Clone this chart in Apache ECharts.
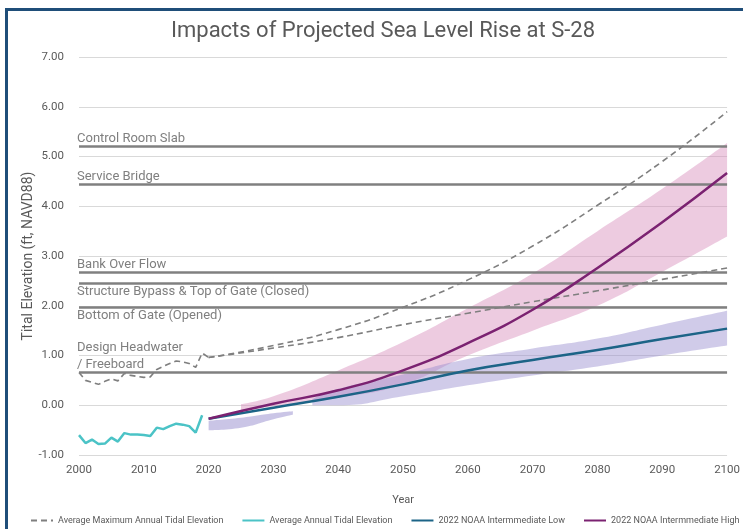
<!DOCTYPE html>
<html>
<head>
<meta charset="utf-8">
<script src="https://cdn.jsdelivr.net/npm/echarts@6/dist/echarts.min.js"></script>
<style>
  html, body { margin: 0; padding: 0; background: #fff; }
  #frame { position: absolute; left: 5px; top: 8px; width: 780px; height: 560px; border: 3px solid #1f4e79; box-sizing: border-box; }
  #chart { position: absolute; left: 0; top: 0; width: 743px; height: 529px; }
</style>
</head>
<body>
<div id="frame"></div>
<div id="chart"></div>
<script>
var FONT = "'Roboto', sans-serif"

// observed record 2000-2020
var histYears = [2000, 2001, 2002, 2003, 2004, 2005, 2006, 2007, 2008, 2009, 2010, 2011, 2012, 2013, 2014, 2015, 2016, 2017, 2018, 2019, 2020]
var avgMaxTide = [0.66, 0.50, 0.46, 0.42, 0.48, 0.53, 0.49, 0.64, 0.60, 0.58, 0.56, 0.57, 0.72, 0.78, 0.84, 0.89, 0.87, 0.84, 0.76, 1.05, 0.96]
var avgTide = [-0.60, -0.76, -0.69, -0.78, -0.77, -0.65, -0.73, -0.56, -0.59, -0.59, -0.60, -0.62, -0.45, -0.48, -0.42, -0.37, -0.39, -0.42, -0.55, -0.20]

// projections (decades)
var projYears = [2020, 2030, 2040, 2050, 2060, 2070, 2080, 2090, 2100]
var maxTideHigh = [0.96, 1.20, 1.52, 1.97, 2.52, 3.20, 4.02, 4.90, 5.90]
var maxTideLow = [0.96, 1.15, 1.36, 1.62, 1.85, 2.08, 2.30, 2.53, 2.76]
var noaaLow = [-0.27, -0.05, 0.17, 0.42, 0.70, 0.91, 1.11, 1.33, 1.54]
var noaaHigh = [-0.27, 0.03, 0.30, 0.70, 1.25, 1.92, 2.76, 3.68, 4.67]

// uncertainty ranges
var highBandYears = [2025, 2030, 2040, 2050, 2060, 2070, 2080, 2090, 2100]
var highBandLower = [-0.12, -0.02, 0.15, 0.42, 1.00, 1.50, 2.00, 2.68, 3.39]
var highBandUpper = [0.02, 0.18, 0.70, 1.27, 1.95, 2.65, 3.50, 4.35, 5.27]
var lowBandEarlyYears = [2020, 2025, 2030, 2033]
var lowBandEarlyLower = [-0.50, -0.45, -0.28, -0.19]
var lowBandEarlyUpper = [-0.31, -0.25, -0.16, -0.12]
var lowBandYears = [2036, 2040, 2050, 2060, 2070, 2080, 2090, 2100]
var lowBandLower = [0.00, 0.00, 0.18, 0.40, 0.60, 0.78, 1.00, 1.20]
var lowBandUpper = [0.12, 0.33, 0.62, 0.93, 1.14, 1.34, 1.62, 1.90]

// structure elevations
var levelNames = ['Control Room Slab', 'Service Bridge', 'Bank Over Flow', 'Structure Bypass & Top of Gate (Closed)', 'Bottom of Gate (Opened)', 'Design Headwater\n/ Freeboard']
var levelValues = [5.21, 4.45, 2.67, 2.46, 1.96, 0.67]

var yTicks = [-1, 0, 1, 2, 3, 4, 5, 6, 7]

var legendNames = ['Average Maximum Annual Tidal Elevation', 'Average Annual Tidal Elevation', '2022 NOAA Intermmediate Low', '2022 NOAA Intermmediate High']

function pairs (xs, ys) {
  return xs.map(function (x, i) { return [x, ys[i]] })
}

// value first so the stack runs on the y dimension
function flipped (xs, ys) {
  return xs.map(function (x, i) { return [ys[i], x] })
}

function band (name, xs, lower, upper, color) {
  var common = {
    type: 'line',
    stack: name,
    stackStrategy: 'all',
    smooth: true,
    symbol: 'none',
    silent: true,
    encode: { x: 1, y: 0 },
    lineStyle: { opacity: 0 },
    z: 1
  }
  return [
    Object.assign({ name: name + ' base', data: flipped(xs, lower) }, common),
    Object.assign({
      name: name,
      areaStyle: { color: color, opacity: 1 },
      data: flipped(xs, upper.map(function (u, i) { return +(u - lower[i]).toFixed(2) }))
    }, common)
  ]
}

var chart = echarts.init(document.getElementById('chart'))

var dashed = { color: '#7f7f7f', width: 1.6, type: [6, 4] }

var series = []
  .concat(band('highBand', highBandYears, highBandLower, highBandUpper, 'rgba(214, 140, 186, 0.45)'))
  .concat(band('lowBandEarly', lowBandEarlyYears, lowBandEarlyLower, lowBandEarlyUpper, 'rgba(150, 140, 206, 0.5)'))
  .concat(band('lowBand', lowBandYears, lowBandLower, lowBandUpper, 'rgba(150, 140, 206, 0.45)'))
  .concat([
    {
      name: 'levels',
      type: 'line',
      data: [],
      z: 3,
      markLine: {
        silent: true,
        symbol: 'none',
        animation: false,
        lineStyle: { color: '#808080', width: 2.5, type: 'solid' },
        data: levelValues.map(function (v, i) {
          var below = (i === 3 || i === 4)
          return {
            yAxis: v,
            label: {
              show: true,
              formatter: levelNames[i],
              position: below ? 'insideStartBottom' : 'insideStartTop',
              distance: below ? [-2, 0] : [-2, -1],
              color: '#7f7f7f',
              fontSize: 13,
              lineHeight: 17,
              fontFamily: FONT
            }
          }
        })
      }
    },
    {
      name: legendNames[0],
      type: 'line',
      symbol: 'none',
      lineStyle: dashed,
      data: pairs(histYears, avgMaxTide),
      z: 4
    },
    {
      name: legendNames[0],
      type: 'line',
      symbol: 'none',
      smooth: true,
      lineStyle: dashed,
      data: pairs(projYears, maxTideHigh),
      z: 4
    },
    {
      name: legendNames[0],
      type: 'line',
      symbol: 'none',
      smooth: true,
      lineStyle: dashed,
      data: pairs(projYears, maxTideLow),
      z: 4
    },
    {
      name: legendNames[1],
      type: 'line',
      symbol: 'none',
      color: '#4bc3c6',
      lineStyle: { width: 2.5 },
      data: pairs(histYears.slice(0, avgTide.length), avgTide),
      z: 5
    },
    {
      name: legendNames[2],
      type: 'line',
      symbol: 'none',
      smooth: true,
      color: '#1c6487',
      lineStyle: { width: 2.5 },
      data: pairs(projYears, noaaLow),
      z: 5
    },
    {
      name: legendNames[3],
      type: 'line',
      symbol: 'none',
      smooth: true,
      color: '#7b2271',
      lineStyle: { width: 2.5 },
      data: pairs(projYears, noaaHigh),
      z: 6
    }
  ])

var option = {
  animation: false,
  title: {
    text: 'Impacts of Projected Sea Level Rise at S-28',
    left: 166,
    top: 15,
    textStyle: { color: '#595959', fontSize: 22, fontWeight: 'normal', fontFamily: FONT }
  },
  grid: { left: 79, right: 14, top: 57, bottom: 74 },
  legend: {
    data: legendNames,
    bottom: 0,
    left: 30,
    right: 0,
    padding: [4, 0],
    itemWidth: 22,
    itemHeight: 8,
    itemGap: 18,
    itemStyle: { opacity: 0 },
    textStyle: { color: '#595959', fontSize: 9, fontFamily: FONT }
  },
  xAxis: {
    type: 'value',
    min: 2000,
    max: 2100,
    interval: 10,
    name: 'Year',
    nameLocation: 'middle',
    nameGap: 40,
    nameTextStyle: { color: '#595959', fontSize: 11, fontFamily: FONT },
    axisLine: { show: false },
    axisTick: { show: false },
    splitLine: { show: false },
    axisLabel: {
      color: '#595959',
      fontSize: 11.5,
      margin: 9,
      fontFamily: FONT,
      formatter: function (v) { return String(v) }
    }
  },
  yAxis: {
    type: 'value',
    min: yTicks[0],
    max: yTicks[yTicks.length - 1],
    interval: 1,
    name: 'Tital Elevation (ft, NAVD88)',
    nameLocation: 'middle',
    nameGap: 44,
    nameMoveOverlap: false,
    nameTextStyle: { color: '#595959', fontSize: 14, fontFamily: FONT },
    axisLine: { show: false },
    axisTick: { show: false },
    splitLine: { lineStyle: { color: '#d9d9d9', width: 1 } },
    axisLabel: {
      color: '#595959',
      fontSize: 11.5,
      margin: 15,
      fontFamily: FONT,
      formatter: function (v) { return v.toFixed(2) }
    }
  },
  series: series
}

chart.setOption(option)
</script>
</body>
</html>
